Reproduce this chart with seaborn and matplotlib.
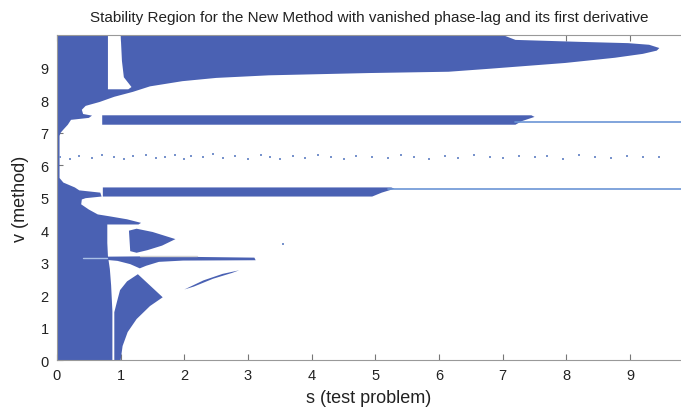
import matplotlib
matplotlib.use("Agg")
import matplotlib.pyplot as plt
import seaborn as sns
import pandas as pd

# Stability region outline (s, v)
# main region: right edge from bottom to top, then the big upper lobe
main_s = [0.0, 0.87, 0.87, 0.85, 0.83, 0.80, 0.79, 0.79, 1.28, 1.32, 1.10, 0.83,
          0.64, 0.50, 0.38, 0.39, 0.45, 0.70, 0.68, 0.35, 0.28, 0.10, 0.04, 0.04,
          0.06, 0.10, 0.17, 0.22, 0.50, 0.55, 0.41, 0.39, 0.45, 0.67, 0.90, 1.19,
          1.46, 1.97, 2.50, 3.33, 4.90, 6.15, 6.78, 7.98, 8.76, 9.20, 9.42, 9.46,
          9.30, 8.97, 8.20, 7.20, 7.00, 1.00, 1.02, 1.05, 1.17, 1.12, 0.80,
          0.80, 0.0]
main_v = [0.0, 0.0, 1.50, 2.30, 2.80, 3.20, 3.60, 4.17, 4.17, 4.22, 4.33, 4.42,
          4.48, 4.63, 4.79, 4.94, 4.98, 5.03, 5.15, 5.22, 5.31, 5.46, 5.60, 6.90,
          7.00, 7.09, 7.24, 7.39, 7.45, 7.52, 7.57, 7.70, 7.82, 7.94, 8.10, 8.25,
          8.42, 8.58, 8.68, 8.76, 8.83, 8.87, 8.96, 9.14, 9.30, 9.42, 9.52, 9.60,
          9.70, 9.75, 9.79, 9.85, 10.0, 10.0, 9.20, 8.70, 8.40, 8.33, 8.33,
          10.0, 10.0]

# lower lobe right of the thin gap at s ~ 0.88
lobe_s = [0.90, 0.90, 0.94, 0.99, 1.10, 1.27, 1.66, 1.46, 1.25, 1.11, 1.03, 1.00]
lobe_v = [0.00, 1.47, 1.78, 2.15, 2.42, 2.64, 1.93, 1.66, 1.26, 0.86, 0.43, 0.00]

# triangle near v = 3.7
tri_s = [1.13, 1.25, 1.50, 1.86, 1.65, 1.42, 1.25, 1.15]
tri_v = [3.98, 4.04, 3.94, 3.72, 3.52, 3.38, 3.30, 3.35]

# thin sliver near s = 2.4
sliver_s = [2.00, 2.30, 2.60, 2.86, 2.75, 2.45, 2.15, 2.00]
sliver_v = [2.17, 2.45, 2.65, 2.76, 2.68, 2.50, 2.26, 2.17]

# horizontal bands
band3_s = [0.78, 1.40, 3.10, 3.12, 1.98, 1.60, 1.40, 1.30, 1.15, 0.95, 0.78]
band3_v = [3.18, 3.19, 3.15, 3.07, 3.06, 3.02, 2.90, 2.82, 2.95, 3.05, 3.08]
band5_s = [0.72, 5.25, 5.30, 5.10, 4.95, 0.72]
band5_v = [5.31, 5.31, 5.27, 5.15, 5.03, 5.03]
band7_s = [0.71, 7.45, 7.50, 7.30, 7.20, 0.71]
band7_v = [7.53, 7.53, 7.48, 7.35, 7.24, 7.24]

# thin lines continuing the bands
line5_s = [5.2, 9.8]
line5_v = [5.25, 5.25]
line7_s = [7.2, 9.8]
line7_v = [7.32, 7.32]

# scattered points around v = 6.2
dots_s = [0.05, 0.20, 0.35, 0.55, 0.70, 0.90, 1.05, 1.20, 1.40, 1.55, 1.70, 1.85,
          2.00, 2.10, 2.30, 2.45, 2.60, 2.80, 3.00, 3.20, 3.35, 3.50, 3.70, 3.90,
          4.10, 4.30, 4.50, 4.70, 4.95, 5.20, 5.40, 5.60, 5.85, 6.10, 6.30, 6.55,
          6.80, 7.00, 7.25, 7.50, 7.70, 7.95, 8.20, 8.45, 8.70, 8.95, 9.20, 9.45,
          3.55]
dots_v = [6.25, 6.20, 6.28, 6.22, 6.30, 6.24, 6.18, 6.27, 6.32, 6.22, 6.26, 6.30,
          6.20, 6.28, 6.25, 6.33, 6.22, 6.27, 6.20, 6.30, 6.24, 6.18, 6.29, 6.23,
          6.31, 6.26, 6.20, 6.28, 6.24, 6.22, 6.30, 6.26, 6.20, 6.28, 6.23, 6.30,
          6.25, 6.21, 6.29, 6.24, 6.27, 6.20, 6.30, 6.25, 6.22, 6.28, 6.24, 6.26,
          3.56]

xticks = list(range(10))
yticks = list(range(10))

blue = "#4a61b3"
light = "#6b95d6"

sns.set_style("white")
plt.rcParams["font.family"] = ["Liberation Sans Narrow", "Liberation Sans", "DejaVu Sans"]

fig = plt.figure(figsize=(6.81, 4.14), dpi=100)
ax = fig.add_axes([0.0837, 0.128, 0.9163, 0.785])

for xs, vs in [(main_s, main_v), (lobe_s, lobe_v), (tri_s, tri_v), (sliver_s, sliver_v),
               (band3_s, band3_v), (band5_s, band5_v), (band7_s, band7_v)]:
    ax.fill(xs, vs, color=blue, lw=0)

ax.plot(line5_s, line5_v, color=light, lw=1.2)
ax.plot(line7_s, line7_v, color=light, lw=1.2)
ax.plot([0.41, 0.78], [3.13, 3.13], color="#a9c0e6", lw=1)
ax.plot([1.3, 2.2], [3.21, 3.21], color="#d0d0d0", lw=1)

dots = pd.DataFrame({"s": dots_s, "v": dots_v})
sns.scatterplot(data=dots, x="s", y="v", ax=ax, s=2.5, color="#7893cc", linewidth=0, marker="s")

ax.set_xlim(0, 9.8)
ax.set_ylim(0, 10)
ax.set_xticks(xticks)
ax.set_yticks(yticks)
ax.tick_params(direction="in", length=4, color="#777777", labelsize=10.5,
               labelcolor="#222222", top=True, bottom=True, left=True, pad=6)
for side in ["left", "bottom", "top"]:
    ax.spines[side].set_color("#999999")
    ax.spines[side].set_linewidth(0.8)
ax.spines["right"].set_visible(False)

ax.set_title("Stability Region for the New Method with vanished phase-lag and its first derivative",
             fontsize=11, pad=10, color="#222222")
ax.set_xlabel("s (test problem)", fontsize=13, color="#222222", labelpad=5)
ax.set_ylabel("v (method)", fontsize=13, color="#222222", labelpad=8)

fig.savefig("out.png", dpi=100)
